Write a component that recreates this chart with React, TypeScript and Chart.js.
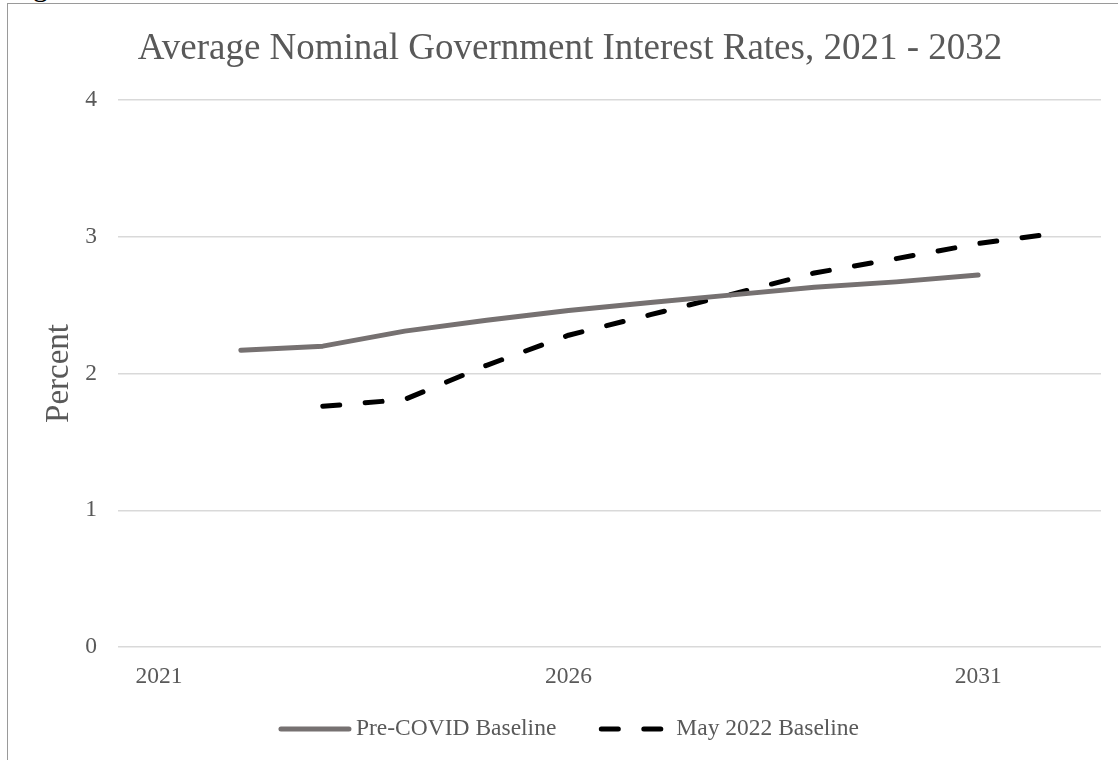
import { useEffect, useRef } from "react";
import { Chart, registerables } from "chart.js";

Chart.register(...registerables);

// Calendar years on the category axis
const years = [
  "2021", "2022", "2023", "2024", "2025", "2026",
  "2027", "2028", "2029", "2030", "2031", "2032",
];
// Years that carry a visible tick label
const labeledYears = ["2021", "2026", "2031"];

// Average nominal government interest rates, percent
const preCovidBaseline = [null, 2.17, 2.2, 2.31, 2.39, 2.46, 2.52, 2.575, 2.63, 2.67, 2.72, null];
const may2022Baseline = [null, null, 1.76, 1.81, 2.06, 2.28, 2.43, 2.58, 2.735, 2.84, 2.95, 3.03];

const seriesNames = ["Pre-COVID Baseline", "May 2022 Baseline"];

const TITLE = "Average Nominal Government Interest Rates, 2021 - 2032";
const AXIS_TITLE = "Percent";
const FONT = "'Liberation Serif', 'Times New Roman', serif";
const TEXT = "#595959";

// Draws a single-row legend with line samples (solid / dashed) below the plot
const lineLegend = {
  id: "lineLegend",
  afterDraw(chart: any, _args: any, opts: any) {
    const { ctx } = chart;
    const datasets = chart.data.datasets;
    ctx.save();
    ctx.font = `${opts.fontSize}px ${FONT}`;
    const widths = datasets.map(
      (ds: any) => opts.sample + opts.gap + ctx.measureText(ds.label).width
    );
    const total =
      widths.reduce((a: number, b: number) => a + b, 0) +
      opts.spacing * (datasets.length - 1);
    let x = chart.width / 2 - total / 2;
    const y = chart.chartArea.bottom + opts.offsetY;
    datasets.forEach((ds: any, i: number) => {
      ctx.beginPath();
      ctx.lineWidth = ds.borderWidth;
      ctx.strokeStyle = ds.borderColor;
      ctx.lineCap = "round";
      ctx.setLineDash(ds.borderDash || []);
      ctx.moveTo(x, y);
      ctx.lineTo(x + opts.sample, y);
      ctx.stroke();
      ctx.setLineDash([]);
      ctx.fillStyle = opts.color;
      ctx.textBaseline = "middle";
      ctx.textAlign = "left";
      ctx.fillText(ds.label, x + opts.sample + opts.gap, y);
      x += widths[i] + opts.spacing;
    });
    ctx.restore();
  },
};

export default function App() {
  const canvasRef = useRef<HTMLCanvasElement | null>(null);

  useEffect(() => {
    if (!canvasRef.current) return;
    const chart = new Chart(canvasRef.current, {
      type: "line",
      data: {
        labels: years,
        datasets: [
          {
            label: seriesNames[0],
            data: preCovidBaseline,
            borderColor: "#767171",
            borderWidth: 5,
            borderCapStyle: "round",
            borderJoinStyle: "round",
            pointRadius: 0,
            tension: 0,
            fill: false,
          },
          {
            label: seriesNames[1],
            data: may2022Baseline,
            borderColor: "#000000",
            borderWidth: 5,
            borderDash: [17, 25.5],
            borderCapStyle: "round",
            borderJoinStyle: "round",
            pointRadius: 0,
            tension: 0,
            fill: false,
          },
        ],
      },
      options: {
        responsive: false,
        animation: false,
        events: [],
        layout: { padding: { left: 31, right: 31, top: 0, bottom: 0 } },
        plugins: {
          legend: { display: false },
          tooltip: { enabled: false },
          title: {
            display: true,
            text: TITLE,
            color: TEXT,
            font: { family: FONT, size: 37, weight: "normal" },
            padding: { top: 23, bottom: 28.6 },
          },
          lineLegend: {
            fontSize: 23.5,
            sample: 68,
            gap: 7,
            spacing: 45,
            offsetY: 82,
            color: TEXT,
          },
        } as any,
        scales: {
          x: {
            type: "category",
            offset: true,
            grid: { display: false, drawTicks: false },
            border: { display: false },
            ticks: {
              autoSkip: false,
              maxRotation: 0,
              padding: 16,
              color: TEXT,
              font: { family: FONT, size: 23.5 },
              callback: (_v: any, i: number) =>
                labeledYears.includes(years[i]) ? years[i] : "",
            },
            afterFit(scale: any) {
              scale.height = 122;
            },
          },
          y: {
            min: 0,
            max: 4,
            ticks: {
              stepSize: 1,
              padding: 21,
              color: TEXT,
              font: { family: FONT, size: 23.5 },
            },
            grid: { color: "#d9d9d9", lineWidth: 1.5, drawTicks: false },
            border: { display: false },
            title: {
              display: true,
              text: AXIS_TITLE,
              color: TEXT,
              font: { family: FONT, size: 33 },
              padding: { top: 1, bottom: 0 },
            },
            afterFit(scale: any) {
              scale.width = 79;
            },
          },
        },
      },
      plugins: [lineLegend],
    });
    return () => chart.destroy();
  }, []);

  return (
    <div
      style={{
        position: "fixed",
        inset: 0,
        overflow: "hidden",
        background: "#ffffff",
      }}
    >
      <div
        style={{
          position: "absolute",
          left: 8,
          top: -28.6,
          fontFamily: FONT,
          fontSize: 30,
          lineHeight: "30px",
          color: "#000000",
          whiteSpace: "nowrap",
        }}
      >
        Figure
      </div>
      <div
        style={{
          position: "absolute",
          left: 7,
          top: 3,
          width: 1124,
          height: 765,
          border: "1px solid #9a9a9a",
          background: "#ffffff",
        }}
      >
        <canvas
          ref={canvasRef}
          width={1124}
          height={765}
          style={{ display: "block" }}
        />
      </div>
    </div>
  );
}
